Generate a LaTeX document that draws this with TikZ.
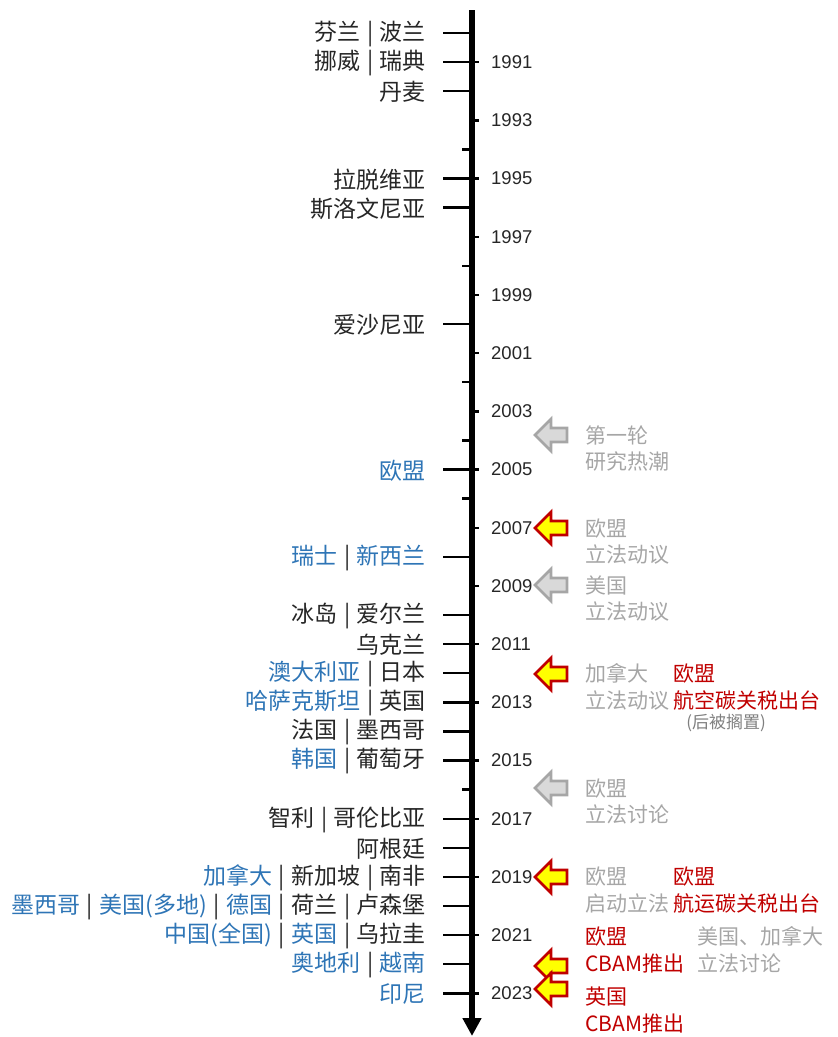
\documentclass[tikz,border=0pt]{standalone}
\usepackage{fontspec}
\usetikzlibrary{arrows.meta}
\newfontfamily\cjk{Noto Sans CJK SC}
\newfontfamily\latf{Liberation Sans}
\definecolor{txt}{HTML}{262626}
\definecolor{cblue}{HTML}{2E75B6}
\definecolor{cgray}{HTML}{A6A6A6}
\definecolor{cred}{HTML}{C00000}
\definecolor{cdgray}{HTML}{7F7F7F}
\definecolor{afill}{HTML}{D9D9D9}
\definecolor{yfill}{HTML}{FFFF00}
\newcommand{\cbl}[1]{\textcolor{cblue}{#1}}
\newcommand{\sepbar}{\kern6.5pt\textcolor{txt}{|}\kern6.5pt}
\tikzset{
  tickline/.style={line width=2.4pt, draw=black},
  country/.style={font={\cjk\fontsize{23}{27}\selectfont}, text=txt, anchor=east, inner sep=0pt},
  yearlab/.style={font={\latf\fontsize{18.5}{20}\selectfont}, text=txt, anchor=west, inner sep=0pt},
  rtext/.style={font={\cjk\fontsize{21}{26.5}\selectfont}, align=left, anchor=west, inner sep=0pt},
  grey note/.style={rtext, text=cgray},
  red note/.style={rtext, text=cred},
  larr/.pic={\path[pic actions, line join=miter] (0,0) -- (16,-16) -- (16,-7) -- (32,-7) -- (32,7) -- (16,7) -- (16,16) -- cycle;},
  garr/.style={draw=cgray, fill=afill, line width=2.8pt},
  yarr/.style={draw=cred, fill=yfill, line width=2.8pt},
}
\begin{document}
\begin{tikzpicture}[x=1pt,y=-1pt]
\useasboundingbox (0,0) rectangle (838,1037);
% axis
\coordinate (axtop) at (472,10);
\coordinate (axbot) at (472,1036);
\draw[line width=6pt, -{Triangle[width=18pt,length=18pt]}] (axtop) -- (axbot);
% year ticks and labels
\foreach \Y in {1990,...,2023}{
  \pgfmathsetmacro\yp{33+29.1*(\Y-1990)}
  \ifodd\Y\relax
    \draw[tickline] (472,\yp) -- (479,\yp);
    \node[yearlab] (y\Y) at (491,\yp) {\Y};
  \else
    \draw[tickline] (462,\yp) -- (472,\yp);
  \fi
}
% country entries
\foreach \Y/\T in {
  1990/{芬兰\sepbar 波兰},
  1991/{挪威\sepbar 瑞典},
  1992/{丹麦},
  1995/{拉脱维亚},
  1996/{斯洛文尼亚},
  2000/{爱沙尼亚},
  2005/{\cbl{欧盟}},
  2008/{\cbl{瑞士}\sepbar\cbl{新西兰}},
  2010/{冰岛\sepbar 爱尔兰},
  2011/{乌克兰},
  2012/{\cbl{澳大利亚}\sepbar 日本},
  2013/{\cbl{哈萨克斯坦}\sepbar 英国},
  2014/{法国\sepbar 墨西哥},
  2015/{\cbl{韩国}\sepbar 葡萄牙},
  2017/{智利\sepbar 哥伦比亚},
  2018/{阿根廷},
  2019/{\cbl{加拿大}\sepbar 新加坡\sepbar 南非},
  2020/{\cbl{墨西哥}\sepbar\cbl{美国(多地)}\sepbar\cbl{德国}\sepbar 荷兰\sepbar 卢森堡},
  2021/{\cbl{中国(全国)}\sepbar\cbl{英国}\sepbar 乌拉圭},
  2022/{\cbl{奥地利}\sepbar\cbl{越南}},
  2023/{\cbl{印尼}}}{
  \pgfmathsetmacro\yp{33+29.1*(\Y-1990)}
  \draw[tickline] (443,\yp) -- (472,\yp);
  \node[country] (c\Y) at (426,\yp+1) {\T};
}
% arrows
\pic[garr] (a2004) at (535,435) {larr};
\pic[yarr] (a2007) at (535,528) {larr};
\pic[garr] (a2009) at (535,585) {larr};
\pic[yarr] (a2012) at (535,674) {larr};
\pic[garr] (a2016) at (535,788) {larr};
\pic[yarr] (a2019) at (535,877) {larr};
\pic[yarr] (a2022) at (535,966) {larr};
\pic[yarr] (a2023) at (535,989) {larr};
% notes
\node[grey note] (n1) at (585,448.5) {第一轮\\研究热潮};
\node[grey note] (n2) at (585,541.5) {欧盟\\立法动议};
\node[grey note] (n3) at (585,598.5) {美国\\立法动议};
\node[grey note] (n4) at (585,687) {加拿大\\立法动议};
\node[red note] (n5) at (673,687) {欧盟\\航空碳关税出台};
\node[font={\cjk\fontsize{17}{20}\selectfont}, text=cdgray, inner sep=0pt] (n5b) at (726,723) {(后被搁置)};
\node[grey note] (n6) at (585,801.5) {欧盟\\立法讨论};
\node[grey note] (n7) at (585,890) {欧盟\\启动立法};
\node[red note] (n8) at (673,890) {欧盟\\航运碳关税出台};
\node[red note] (n9) at (585,950) {欧盟\\CBAM推出};
\node[grey note] (n10) at (697,950) {美国、加拿大\\立法讨论};
\node[red note] (n11) at (585,1010) {英国\\CBAM推出};
\end{tikzpicture}
\end{document}
